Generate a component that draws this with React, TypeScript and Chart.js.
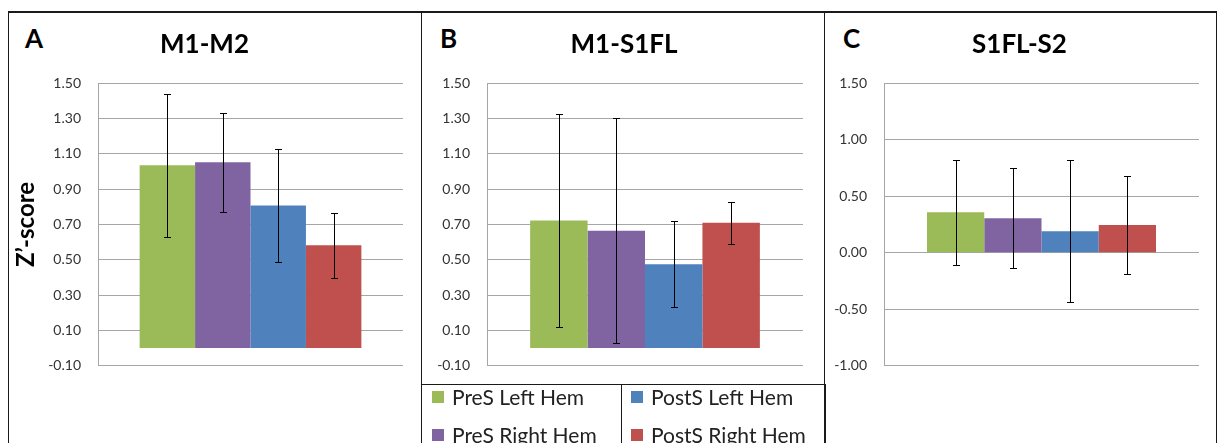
import React, { useEffect, useRef } from 'react';
import { Chart, registerables } from 'chart.js';

Chart.register(...registerables);

// ---------- data ----------
const SERIES_LABELS = ['PreS Left Hem', 'PreS Right Hem', 'PostS Left Hem', 'PostS Right Hem'];
const SERIES_COLORS = ['#9BBB59', '#8064A2', '#4F81BD', '#C0504D'];
const PANEL_LETTERS = ['A', 'B', 'C'];
const PANEL_TITLES = ['M1-M2', 'M1-S1FL', 'S1FL-S2'];
const Y_AXIS_TITLE = 'Z\u2019-score';

const M1M2_MEANS = [1.035, 1.052, 0.807, 0.582];
const M1M2_ERRORS = [0.405, 0.281, 0.318, 0.185];
const M1S1FL_MEANS = [0.722, 0.665, 0.474, 0.709];
const M1S1FL_ERRORS = [0.605, 0.638, 0.243, 0.118];
const S1FLS2_MEANS = [0.357, 0.304, 0.189, 0.245];
const S1FLS2_ERRORS = [0.468, 0.443, 0.63, 0.432];

const AB_TICKS = [-0.1, 0.1, 0.3, 0.5, 0.7, 0.9, 1.1, 1.3, 1.5];
const C_TICKS = [-1.0, -0.5, 0.0, 0.5, 1.0, 1.5];

const FONT = 'Lato, "Open Sans", "DejaVu Sans", sans-serif';

const errorBarPlugin = {
  id: 'errorBars',
  afterDatasetsDraw(chart: any) {
    const ctx = chart.ctx;
    const y = chart.scales.y;
    ctx.save();
    ctx.strokeStyle = '#000';
    ctx.lineWidth = 1;
    chart.data.datasets.forEach((ds: any, i: number) => {
      const meta = chart.getDatasetMeta(i);
      meta.data.forEach((bar: any, j: number) => {
        const v = ds.data[j];
        const e = ds.errors[j];
        const x = Math.round(bar.x) + 0.5;
        const top = Math.round(y.getPixelForValue(v + e)) + 0.5;
        const bot = Math.round(y.getPixelForValue(v - e)) + 0.5;
        ctx.beginPath();
        ctx.moveTo(x, top);
        ctx.lineTo(x, bot);
        ctx.moveTo(x - 3.5, top);
        ctx.lineTo(x + 3.5, top);
        ctx.moveTo(x - 3.5, bot);
        ctx.lineTo(x + 3.5, bot);
        ctx.stroke();
      });
    });
    ctx.restore();
  },
};

// let the tick labels use the whole canvas width to the left of the axis
const labelRoomPlugin = {
  id: 'labelRoom',
  afterLayout(chart: any) {
    const s = chart.scales.y;
    if (s) s.left = 0;
  },
};

type PanelProps = {
  title: string;
  means: number[];
  errors: number[];
  ticks: number[];
  left: number;
  width: number;
  padLeft: number;
  padRight: number;
  axisWidth: number;
  showYTitle: boolean;
};

const CANVAS_TOP = 11;
const CANVAS_HEIGHT = 380;

function Panel({ title, means, errors, ticks, left, width, padLeft, padRight, axisWidth, showYTitle }: PanelProps) {
  const ref = useRef<HTMLCanvasElement | null>(null);
  useEffect(() => {
    if (!ref.current) return;
    const chart = new Chart(ref.current, {
      type: 'bar',
      data: {
        labels: [''],
        datasets: SERIES_LABELS.map((label, i) => ({
          label,
          data: [means[i]],
          errors: [errors[i]],
          backgroundColor: SERIES_COLORS[i],
          borderWidth: 0,
          barPercentage: 1,
          categoryPercentage: 0.727,
        })) as any,
      },
      options: {
        responsive: false,
        animation: false,
        events: [],
        layout: { padding: { top: 0, left: padLeft, right: padRight, bottom: 0 } },
        plugins: {
          legend: { display: false },
          tooltip: { enabled: false },
          title: {
            display: true,
            text: title,
            color: '#000',
            font: { family: FONT, size: 26, weight: 'bold' },
            padding: { top: 17.6, bottom: 23.5 },
          },
        },
        scales: {
          x: { display: false },
          y: {
            min: ticks[0],
            max: ticks[ticks.length - 1],
            afterBuildTicks: (axis: any) => {
              axis.ticks = ticks.map((v) => ({ value: v }));
            },
            afterFit: (scale: any) => {
              scale.width = axisWidth;
            },
            grid: { color: '#a6a6a6', lineWidth: 1, drawTicks: false },
            border: { display: true, color: '#a6a6a6', width: 1 },
            ticks: {
              padding: 17,
              color: '#333',
              font: { family: FONT, size: 14 },
              callback: (v: any) => Number(v).toFixed(2),
            },
            title: {
              display: showYTitle,
              text: Y_AXIS_TITLE,
              color: '#000',
              font: { family: FONT, size: 24, weight: 'bold' },
              padding: { top: 6.3, bottom: 0 },
            },
          },
        },
      },
      plugins: [errorBarPlugin, labelRoomPlugin],
    } as any);
    return () => chart.destroy();
  }, []);
  return (
    <canvas
      ref={ref}
      width={width}
      height={CANVAS_HEIGHT}
      style={{ position: 'absolute', left, top: CANVAS_TOP, width, height: CANVAS_HEIGHT }}
    />
  );
}

const line = (l: number, t: number, w: number, h: number, c = '#1a1a1a') => (
  <div style={{ position: 'absolute', left: l, top: t, width: w, height: h, background: c }} />
);

const letterStyle = (l: number): React.CSSProperties => ({
  position: 'absolute',
  left: l,
  top: 21,
  fontFamily: FONT,
  fontWeight: 'bold',
  fontSize: 26,
  lineHeight: '34px',
  color: '#000',
});

function LegendItem({ i, l, t }: { i: number; l: number; t: number }) {
  return (
    <div style={{ position: 'absolute', left: l, top: t - 15, height: 30, display: 'flex', alignItems: 'center' }}>
      <div style={{ width: 12, height: 12, background: SERIES_COLORS[i], marginRight: 8 }} />
      <span style={{ fontFamily: FONT, fontSize: 21, color: '#222', lineHeight: '30px', whiteSpace: 'nowrap' }}>
        {SERIES_LABELS[i]}
      </span>
    </div>
  );
}

export default function App() {
  return (
    <div
      style={{
        position: 'absolute',
        left: 0,
        top: 0,
        width: 1219,
        height: 443,
        overflow: 'hidden',
        background: '#fff',
      }}
    >
      {/* panel frames */}
      {line(8, 11, 1209, 1.5)}
      {line(7.5, 11, 1.5, 440)}
      {line(420.5, 11, 1.8, 440)}
      {line(823.5, 11, 1.5, 440)}
      {line(1215.5, 11, 1.5, 440)}
      {/* legend box */}
      {line(421, 383.5, 404, 1.5)}
      {line(620.5, 383.5, 1.8, 60)}
      {line(823.5, 383.5, 2.2, 60)}

      <div style={letterStyle(25)}>{PANEL_LETTERS[0]}</div>
      <div style={letterStyle(440)}>{PANEL_LETTERS[1]}</div>
      <div style={letterStyle(843)}>{PANEL_LETTERS[2]}</div>

      <Panel title={PANEL_TITLES[0]} means={M1M2_MEANS} errors={M1M2_ERRORS} ticks={AB_TICKS}
        left={6} width={397} padLeft={0} padRight={0} axisWidth={92} showYTitle={true} />
      <Panel title={PANEL_TITLES[1]} means={M1S1FL_MEANS} errors={M1S1FL_ERRORS} ticks={AB_TICKS}
        left={430} width={380} padLeft={15} padRight={7} axisWidth={42} showYTitle={false} />
      <Panel title={PANEL_TITLES[2]} means={S1FLS2_MEANS} errors={S1FLS2_ERRORS} ticks={C_TICKS}
        left={825} width={380} padLeft={15} padRight={6} axisWidth={44} showYTitle={false} />

      <LegendItem i={0} l={432} t={397} />
      <LegendItem i={1} l={432} t={435} />
      <LegendItem i={2} l={631} t={397} />
      <LegendItem i={3} l={631} t={435} />
    </div>
  );
}
